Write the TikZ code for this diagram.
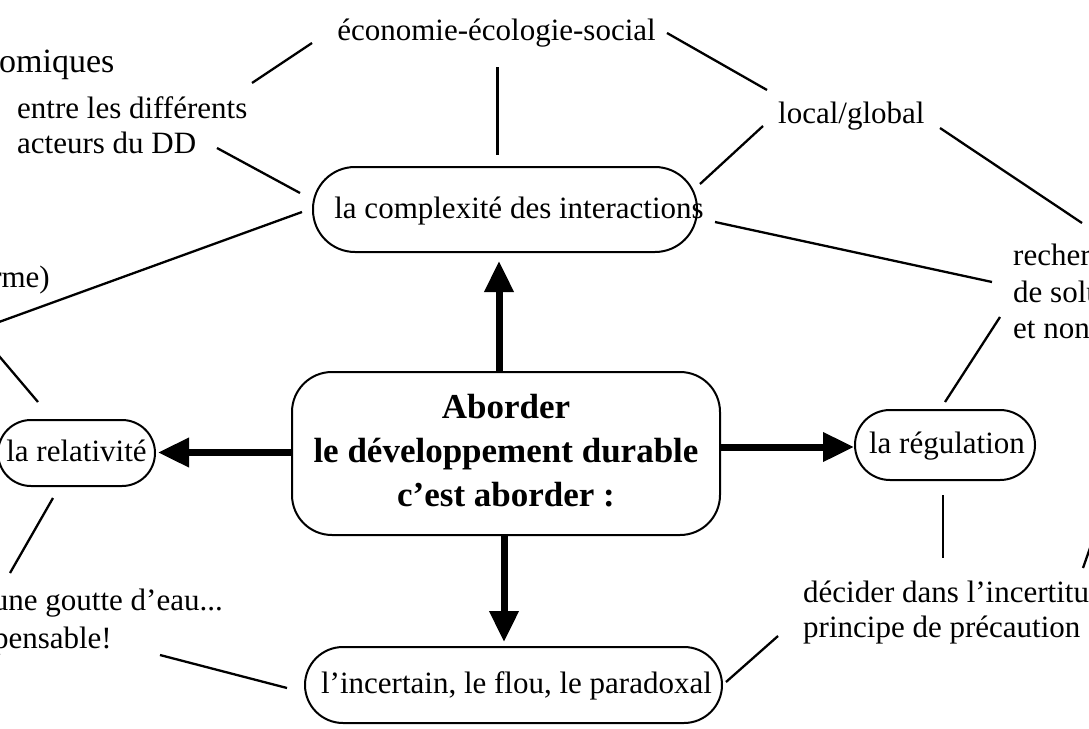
\documentclass[tikz,border=0pt]{standalone}
\usepackage{fontspec}
\usepackage{graphicx}
\setmainfont{Liberation Serif}
\usetikzlibrary{arrows.meta}
\begin{document}
\begin{tikzpicture}[x=1pt,y=-1pt,
  txt/.style={inner sep=0pt, font=\fontsize{31}{36}\selectfont},
  oval/.style={draw, line width=2pt, rectangle, inner sep=0pt,
    font=\fontsize{31}{36}\selectfont, text height=24pt, text depth=7pt},
  thinline/.style={line width=2.3pt},
  bigarrow/.style={line width=7pt, -{Triangle[length=31pt,width=28pt]}},
]
\useasboundingbox (0,0) rectangle (1089,728);
\clip (0,0) rectangle (1089,728);

% ovals and main box
\node[oval, rounded corners=42pt, minimum width=384pt, minimum height=85pt] (cplx) at (505,209.5)
  {\makebox[0pt]{\hspace*{28pt}la complexité des interactions}};
\node[oval, rounded corners=33pt, minimum width=157pt, minimum height=66pt] (rel) at (76.5,453)
  {\makebox[0pt]{la relativité}};
\node[oval, rounded corners=35pt, minimum width=180pt, minimum height=70pt] (reg) at (945,445)
  {\makebox[0pt]{\hspace*{4pt}la régulation}};
\node[oval, rounded corners=38pt, minimum width=417pt, minimum height=76pt] (inc) at (513.5,685)
  {\makebox[0pt]{\hspace*{6pt}l’incertain, le flou, le paradoxal}};
\node[draw, line width=2pt, rectangle, rounded corners=40pt, inner sep=0pt,
  minimum width=428pt, minimum height=163pt] (main) at (506,453.5)
  {\makebox[0pt]{\fontsize{35}{44}\selectfont\bfseries
   \begin{tabular}{@{}c@{}}Aborder\\le développement durable\\c’est aborder :\end{tabular}}};

% free texts
\node[txt, anchor=base] (eco) at (496.5,40) {économie-écologie-social};
\node[txt, anchor=base west, font=\fontsize{34}{40}\selectfont] (omi) at (-1,72) {omiques};
\node[txt, anchor=base west] (act1) at (17,118) {entre les différents};
\node[txt, anchor=base west] (act2) at (17,153) {acteurs du DD};
\node[txt, anchor=base west] (loc) at (778,123) {local/global};
\node[txt, anchor=base east] (rme) at (50,287) {rme)};
\node[txt, anchor=base west] (rech1) at (1013,265) {recherche};
\node[txt, anchor=base west] (rech2) at (1013,302) {de solutions};
\node[txt, anchor=base west] (rech3) at (1013,338) {et non};
\node[txt, anchor=base west] (dec1) at (803,602) {décider dans l’incertitude};
\node[txt, anchor=base west] (dec2) at (803,637) {principe de précaution};
\node[txt, anchor=base east] (gou1) at (223,610) {une goutte d’eau...};
\node[txt, anchor=base east] (gou2) at (112,648) {pensable!};

% connector end points
\coordinate (c1a) at (252,83);   \coordinate (c1b) at (312,43);
\coordinate (c2a) at (217,148);  \coordinate (c2b) at (300,193);
\coordinate (c3a) at (302,212);  \coordinate (c3b) at (-12,326);
\coordinate (c4a) at (-12,343);  \coordinate (c4b) at (38,402);
\coordinate (c5a) at (497,67);   \coordinate (c5b) at (497,155);
\coordinate (c6a) at (667,33);   \coordinate (c6b) at (767,90);
\coordinate (c7a) at (763,126);  \coordinate (c7b) at (700,184);
\coordinate (c8a) at (940,128);  \coordinate (c8b) at (1082,223);
\coordinate (c9a) at (715,222);  \coordinate (c9b) at (992,282);
\coordinate (c10a) at (1000,317); \coordinate (c10b) at (945,402);
\coordinate (c11a) at (943,495); \coordinate (c11b) at (943,558);
\coordinate (c12a) at (1083,568); \coordinate (c12b) at (1097,528);
\coordinate (c13a) at (726,682); \coordinate (c13b) at (778,636);
\coordinate (c14a) at (287,688); \coordinate (c14b) at (160,655);
\coordinate (c15a) at (53,498);  \coordinate (c15b) at (10,573);

\draw[thinline] (c1a) -- (c1b);
\draw[thinline] (c2a) -- (c2b);
\draw[thinline] (c3a) -- (c3b);
\draw[thinline] (c4a) -- (c4b);
\draw[line width=3pt] (c5a) -- (c5b);
\draw[thinline] (c6a) -- (c6b);
\draw[thinline] (c7a) -- (c7b);
\draw[thinline] (c8a) -- (c8b);
\draw[thinline] (c9a) -- (c9b);
\draw[thinline] (c10a) -- (c10b);
\draw[thinline] (c11a) -- (c11b);
\draw[thinline] (c12a) -- (c12b);
\draw[thinline] (c13a) -- (c13b);
\draw[thinline] (c14a) -- (c14b);
\draw[thinline] (c15a) -- (c15b);

% thick arrows
\draw[bigarrow, shorten >=8pt] ([xshift=-7pt]main.north) -- ([xshift=-7pt]main.north |- cplx.south);
\draw[bigarrow, shorten >=2pt] ([yshift=1pt]main.west) -- ([yshift=1pt]main.west -| rel.east);
\draw[bigarrow] ([yshift=6.5pt]main.east) -- ([yshift=6.5pt]main.east -| reg.west);
\draw[bigarrow, shorten >=4pt] ([xshift=-2pt]main.south) -- ([xshift=-2pt]main.south |- inc.north);
\end{tikzpicture}
\end{document}
